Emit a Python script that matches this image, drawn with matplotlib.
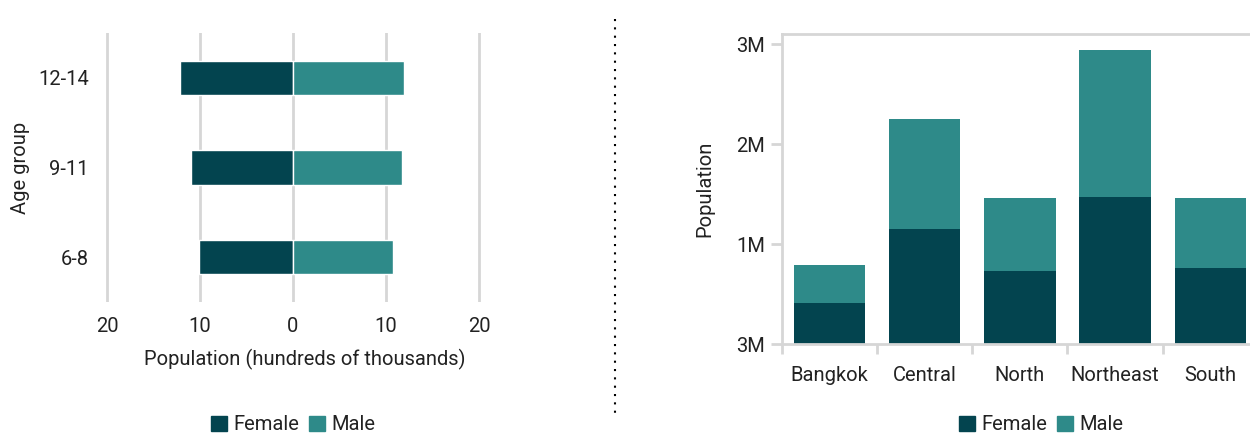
import numpy as np
import matplotlib.pyplot as plt
from matplotlib.patches import Patch
from matplotlib.lines import Line2D

plt.rcParams['font.family'] = ['Roboto', 'DejaVu Sans']
plt.rcParams['text.color'] = '#222222'

# data - left: population pyramid (hundreds of thousands)
age_groups = ["6-8", "9-11", "12-14"]
female_age = [10.1, 11.0, 12.15]
male_age = [10.8, 11.7, 11.9]

# data - right: population by region (millions)
regions = ["Bangkok", "Central", "North", "Northeast", "South"]
female_reg = [0.41, 1.15, 0.73, 1.47, 0.76]
male_reg = [0.38, 1.10, 0.73, 1.47, 0.70]
ytick_vals = [0, 1, 2, 3]
ytick_text = ["3M", "1M", "2M", "3M"]

c_f = "#03444f"
c_m = "#2e8a89"
grid_c = "#d6d6d6"
txt_c = "#222222"
fs = 14.5
W, H = 1250, 434

fig = plt.figure(figsize=(12.5, 4.34), dpi=100)

# ---------------- left chart ----------------
ppu = 9.3
x0 = 293
ax1 = fig.add_axes([(x0 - 20.3 * ppu) / W, 1 - 302 / H, 40.6 * ppu / W, (302 - 33) / H])
y = np.arange(len(age_groups))
for v in [-20, -10, 0, 10, 20]:
    ax1.axvline(v, color=grid_c, lw=2, zorder=0)
ax1.barh(y, [-v for v in female_age], height=0.38, color=c_f, edgecolor="white", lw=1, zorder=2)
ax1.barh(y, male_age, height=0.38, color=c_m, edgecolor="white", lw=1, zorder=2)
ax1.set_xlim(-20.3, 20.3)
ax1.set_ylim(-0.5, 2.5)
ax1.set_xticks([-20, -10, 0, 10, 20])
ax1.set_xticklabels(["20", "10", "0", "10", "20"])
ax1.set_yticks(y)
ax1.set_yticklabels(age_groups)
ax1.tick_params(length=0, labelsize=fs, colors=txt_c, pad=11)
ax1.tick_params(axis="y", pad=11)
for s in ax1.spines.values():
    s.set_visible(False)
ax1.set_xlabel("Population (hundreds of thousands)", fontsize=fs, color=txt_c)
ax1.xaxis.set_label_coords(0.53, -0.175)
ax1.set_ylabel("Age group", fontsize=fs, color=txt_c, labelpad=6)
ax1.legend(handles=[Patch(color=c_f, label="Female"), Patch(color=c_m, label="Male")],
           loc="center", bbox_to_anchor=(x0 / W, 1 - 425 / H), bbox_transform=fig.transFigure,
           ncol=2, frameon=False, fontsize=fs, handlelength=0.8, handleheight=0.8,
           handletextpad=0.3, columnspacing=0.5)

# ---------------- separator ----------------
fig.add_artist(Line2D([615 / W, 615 / W], [1 - 19 / H, 1 - 414 / H], color="black",
                      lw=1.5, linestyle=(0, (1, 3)), transform=fig.transFigure))

# ---------------- right chart ----------------
left = 781.8
band = 95.2
ax2 = fig.add_axes([left / W, 1 - 344 / H, 5 * band / W, (344 - 34) / H])
xr = np.arange(len(regions))
ax2.bar(xr, female_reg, width=0.75, color=c_f, zorder=2)
ax2.bar(xr, male_reg, bottom=female_reg, width=0.75, color=c_m, zorder=2)
ax2.set_xlim(-0.5, 4.5)
ax2.set_ylim(0, 3.1)
ax2.set_yticks(ytick_vals)
ax2.set_yticklabels(ytick_text)
ax2.set_xticks(xr)
ax2.set_xticklabels(regions)
ax2.set_xticks(np.arange(-0.5, 5, 1), minor=True)
ax2.tick_params(axis="x", which="major", length=0, labelsize=fs, colors=txt_c, pad=16)
ax2.tick_params(axis="x", which="minor", length=7, width=2, color=grid_c)
ax2.tick_params(axis="y", length=8, width=2, color=grid_c, labelsize=fs, labelcolor=txt_c, pad=4)
for k in ["left", "top", "bottom"]:
    ax2.spines[k].set_color(grid_c)
    ax2.spines[k].set_linewidth(2)
ax2.spines["right"].set_visible(False)
ax2.set_ylabel("Population", fontsize=fs, color=txt_c, labelpad=16)
ax2.legend(handles=[Patch(color=c_f, label="Female"), Patch(color=c_m, label="Male")],
           loc="center", bbox_to_anchor=(1041 / W, 1 - 425 / H), bbox_transform=fig.transFigure,
           ncol=2, frameon=False, fontsize=fs, handlelength=0.8, handleheight=0.8,
           handletextpad=0.3, columnspacing=0.5)

fig.savefig("out.png", dpi=100)
